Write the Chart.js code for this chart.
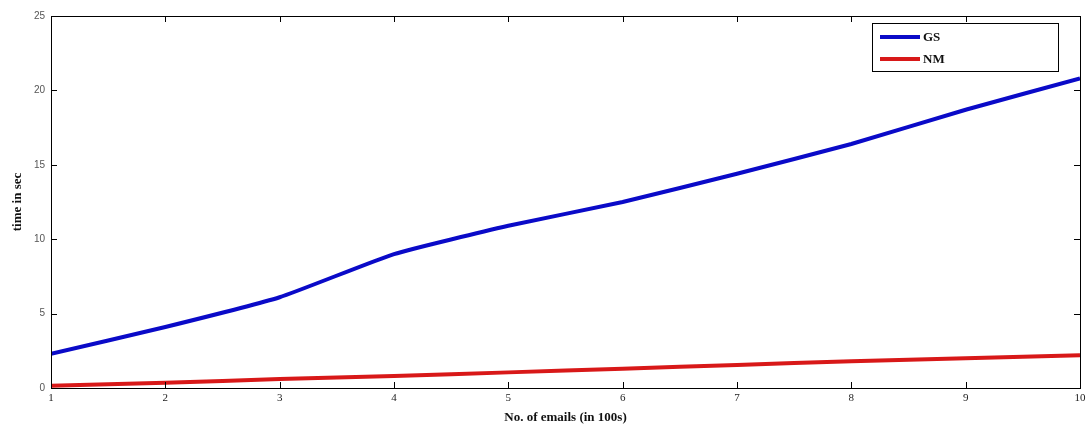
<!DOCTYPE html>
<html>
<head>
<meta charset="utf-8">
<script src="https://cdn.jsdelivr.net/npm/chart.js@4"></script>
<style>
  html, body { margin: 0; padding: 0; background: #fff; }
  #wrap { width: 1091px; height: 430px; }
</style>
</head>
<body>
<div id="wrap"><canvas id="timeChart" width="1091" height="430"></canvas></div>
<script>
// emails (in 100s)
const emails = [1, 2, 3, 4, 5, 6, 7, 8, 9, 10];
// time in sec
const gsTimes = [2.3, 4.1, 6.1, 9.0, 10.9, 12.5, 14.4, 16.4, 18.7, 20.8];
const nmTimes = [0.15, 0.35, 0.6, 0.8, 1.05, 1.3, 1.55, 1.8, 2.0, 2.2];
const seriesNames = ['GS', 'NM'];
const yTicks = [0, 5, 10, 15, 20, 25];

const toPoints = (vals) => emails.map((e, i) => ({ x: e, y: vals[i] }));

// frame with inward tick marks on all four sides (matlab look)
const frameTicks = {
    id: 'frameTicks',
    afterDraw(chart) {
        const { ctx, chartArea: a, scales } = chart;
        ctx.save();
        ctx.strokeStyle = '#000';
        ctx.lineWidth = 1;
        ctx.strokeRect(a.left + 0.5, a.top + 0.5, a.right - a.left, a.bottom - a.top);
        const len = 6;
        ctx.beginPath();
        emails.forEach(v => {
            const x = Math.round(scales.x.getPixelForValue(v)) + 0.5;
            ctx.moveTo(x, a.bottom); ctx.lineTo(x, a.bottom - len);
            ctx.moveTo(x, a.top); ctx.lineTo(x, a.top + len);
        });
        yTicks.forEach(v => {
            const y = Math.round(scales.y.getPixelForValue(v)) + 0.5;
            ctx.moveTo(a.left, y); ctx.lineTo(a.left + len, y);
            ctx.moveTo(a.right, y); ctx.lineTo(a.right - len, y);
        });
        ctx.stroke();

        // legend box in the top right corner
        const bx = 872, by = 23, bw = 186, bh = 48;
        ctx.fillStyle = '#fff';
        ctx.fillRect(bx, by, bw, bh);
        ctx.strokeRect(bx + 0.5, by + 0.5, bw, bh);
        ctx.font = 'bold 13px "Liberation Serif"';
        ctx.textBaseline = 'middle';
        chart.data.datasets.forEach((ds, i) => {
            const y = by + 14 + i * 22;
            ctx.strokeStyle = ds.borderColor;
            ctx.lineWidth = 4;
            ctx.beginPath();
            ctx.moveTo(bx + 8, y);
            ctx.lineTo(bx + 48, y);
            ctx.stroke();
            ctx.fillStyle = '#111';
            ctx.fillText(ds.label, bx + 51, y + 1);
        });
        ctx.restore();
    }
};

const ctx = document.getElementById('timeChart').getContext('2d');
new Chart(ctx, {
    type: 'line',
    data: {
        datasets: [{
            label: seriesNames[0],
            data: toPoints(gsTimes),
            borderColor: '#0a0ac8',
            borderWidth: 4,
            pointRadius: 0,
            tension: 0.15,
            fill: false
        }, {
            label: seriesNames[1],
            data: toPoints(nmTimes),
            borderColor: '#d81818',
            borderWidth: 4,
            pointRadius: 0,
            tension: 0.15,
            fill: false
        }]
    },
    options: {
        responsive: false,
        animation: false,
        layout: { padding: { top: 16, right: 11, left: 0, bottom: 0 } },
        plugins: {
            legend: { display: false },
            tooltip: { enabled: false }
        },
        scales: {
            x: {
                type: 'linear',
                min: 1,
                max: 10,
                grid: { display: false, drawTicks: false },
                border: { display: false },
                ticks: {
                    stepSize: 1,
                    padding: 4,
                    color: '#222',
                    font: { family: 'Liberation Serif', size: 11 },
                    maxRotation: 0
                },
                title: {
                    display: true,
                    text: 'No. of emails (in 100s)',
                    color: '#111',
                    font: { family: 'Liberation Serif', size: 13, weight: 'bold' },
                    padding: { top: 0, bottom: 5 }
                },
                afterFit(scale) { scale.height = 42; }
            },
            y: {
                min: 0,
                max: 25,
                grid: { display: false, drawTicks: false },
                border: { display: false },
                afterBuildTicks(scale) { scale.ticks = yTicks.map(v => ({ value: v })); },
                ticks: {
                    padding: 6,
                    color: '#555',
                    font: { family: 'Liberation Sans', size: 10 }
                },
                title: {
                    display: true,
                    text: 'time in sec',
                    color: '#111',
                    font: { family: 'Liberation Serif', size: 13, weight: 'bold' },
                    padding: { top: 10, bottom: 0 }
                },
                afterFit(scale) { scale.width = 51; }
            }
        }
    },
    plugins: [frameTicks]
});
</script>
</body>
</html>
